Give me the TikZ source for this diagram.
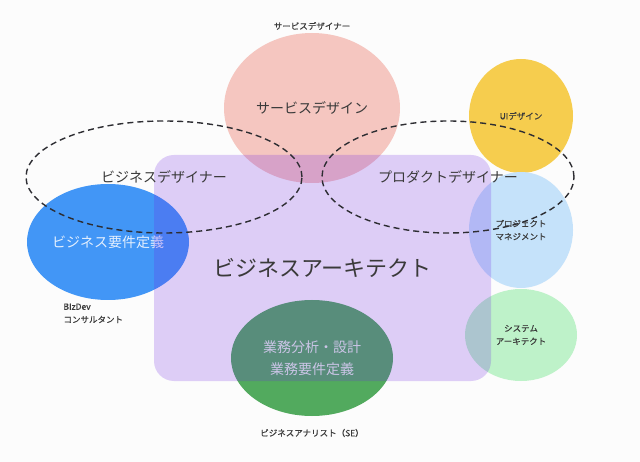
\documentclass[tikz,border=0pt]{standalone}
\usepackage{fontspec}
\setmainfont{Noto Sans CJK JP}
\newfontfamily\smallfont[FakeBold=0.5]{Noto Sans CJK JP}
\usepackage{xcolor}
\usepackage{tikz}
\usetikzlibrary{shapes.geometric,positioning}

\definecolor{bgwhite}{RGB}{252,252,252}
\definecolor{textgray}{RGB}{58,58,58}
\definecolor{dashgray}{RGB}{45,45,50}
\definecolor{salmon}{RGB}{245,198,192}
\definecolor{uiyellow}{RGB}{246,205,78}
\definecolor{pmblue}{RGB}{197,226,250}
\definecolor{sysgreen}{RGB}{190,242,201}
\definecolor{bizblue}{RGB}{66,150,246}
\definecolor{bagreen}{RGB}{82,170,94}
\definecolor{archpurple}{RGB}{111,38,229}

\begin{document}
\begin{tikzpicture}[x=1pt,y=-1pt,
    zone/.style={ellipse, inner sep=0pt, text=textgray},
    roleline/.style={ellipse, draw=dashgray, line width=1.4pt, dash pattern=on 6pt off 4pt, inner sep=0pt, text=textgray, font=\fontsize{14}{16}\selectfont},
    smalltext/.style={text=textgray, font=\smallfont\fontsize{8.5}{13}\selectfont, align=center}]
    \useasboundingbox (0,0) rectangle (640,462);
    \fill[bgwhite] (0,0) rectangle (640,462);

    % Skill areas
    \node[zone, fill=salmon, minimum width=176pt, minimum height=150pt, font=\fontsize{14}{16}\selectfont] (service) at (312,108) {サービスデザイン};
    \node[zone, fill=uiyellow, minimum width=104pt, minimum height=114pt, font=\smallfont\fontsize{8.5}{13}\selectfont] (ui) at (521,116) {UIデザイン};
    \node[zone, fill=pmblue, minimum width=104pt, minimum height=116pt, font=\smallfont\fontsize{8.5}{13}\selectfont, align=center] (pm) at (521,230) {プロジェクト\\マネジメント};
    \node[zone, fill=sysgreen, minimum width=112pt, minimum height=92pt, font=\smallfont\fontsize{8.5}{13}\selectfont, align=center] (sys) at (521,335) {システム\\アーキテクト};
    \node[zone, fill=bizblue, minimum width=162pt, minimum height=116pt, text=white!85!bizblue, font=\fontsize{14}{16}\selectfont] (bizreq) at (108,242) {ビジネス要件定義};
    \node[zone, fill=bagreen, minimum width=162pt, minimum height=116pt, text=white!85!bagreen, font=\fontsize{14}{22}\selectfont, align=center] (analysis) at (312,358) {業務分析・設計\\業務要件定義};

    % Business architect
    \node[rectangle, rounded corners=20pt, fill=archpurple, fill opacity=0.22, text opacity=1, text=textgray, minimum width=337pt, minimum height=226pt, font=\fontsize{22}{26}\selectfont] (arch) at (322.5,268) {ビジネスアーキテクト};

    % Designer roles
    \node[roleline, minimum width=276pt, minimum height=112pt] (bizdesigner) at (164,177) {ビジネスデザイナー};
    \node[roleline, minimum width=252pt, minimum height=112pt] (proddesigner) at (448,177) {プロダクトデザイナー};

    % Role names
    \node[smalltext] (servicedesigner) at (312,26) {サービスデザイナー};
    \node[smalltext, align=left, anchor=north west] (bizdev) at (60,300) {BIzDev\\コンサルタント};
    \node[smalltext] (analyst) at (312,433) {ビジネスアナリスト（SE）};
\end{tikzpicture}
\end{document}
